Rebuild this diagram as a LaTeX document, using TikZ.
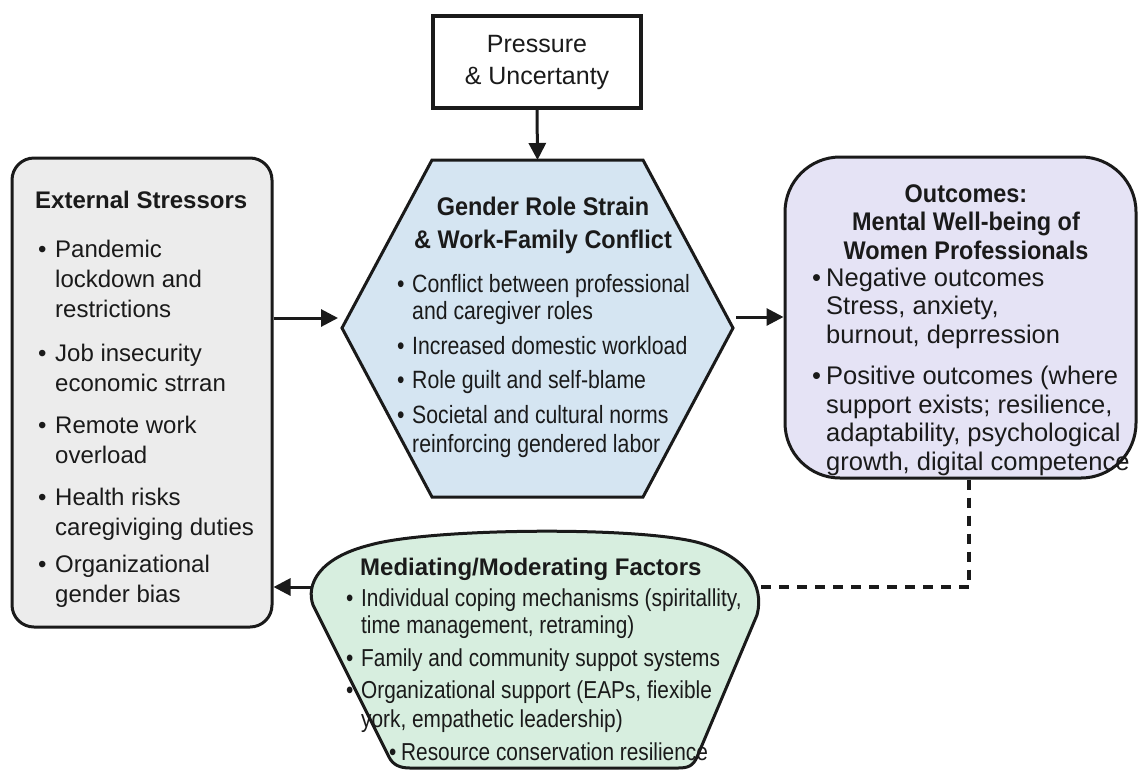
\documentclass[tikz,border=0pt]{standalone}
\usepackage{fontspec}
\setmainfont{Liberation Sans}
\newfontfamily\narrowfont{Liberation Sans}[FakeStretch=0.85]
\newfontfamily\semifont{Liberation Sans}[FakeStretch=0.92]
\usetikzlibrary{arrows.meta}

\definecolor{ink}{HTML}{1A1A1A}
\definecolor{extfill}{HTML}{ECECEC}
\definecolor{hexfill}{HTML}{D5E5F2}
\definecolor{outfill}{HTML}{E5E3F5}
\definecolor{medfill}{HTML}{D7EEDF}

% bullet mark in a box of given width, and the matching indent of follow-on lines
\newcommand\itemdot[1]{\makebox[#1][l]{\textbullet}}
\newcommand\cont[1]{\hspace*{#1}}

\begin{document}
\begin{tikzpicture}[x=1pt,y=-1pt,
  outline/.style={draw=ink, line width=3pt},
  arr/.style={draw=ink, line width=3pt, -{Triangle[length=17pt,width=17pt]}},
  link/.style={draw=ink, line width=3.5pt, dash pattern=on 10pt off 8pt},
  txt/.style={inner sep=0pt, text=ink, anchor=base west},
  ctxt/.style={inner sep=0pt, text=ink, anchor=base},
]
\useasboundingbox (0,0) rectangle (1139,769);
\fill[white] (0,0) rectangle (1139,769);

% ---- boxes ----
\node[outline, fill=extfill, rounded corners=22pt, minimum width=260pt,
      minimum height=469pt, inner sep=0pt] (ext) at (142,392.5) {};
\node[outline, line width=3.5pt, fill=white, minimum width=208pt, minimum height=92pt,
      inner sep=0pt, align=center, text=ink,
      font=\fontsize{25}{32}\selectfont] (top) at (537,62) {Pressure\\\& Uncertanty};
\node[outline, fill=outfill, rounded corners=55pt, minimum width=351pt,
      minimum height=321pt, inner sep=0pt] (out) at (960.5,317.5) {};

% ---- central hexagon ----
\coordinate (hexT) at (537.5,160);
\coordinate (hexL) at (342,328);
\coordinate (hexR) at (733,328);
\draw[outline, fill=hexfill, line join=miter]
  (432,160) -- (643,160) -- (hexR) -- (643,497) -- (432,497) -- (hexL) -- cycle;

% ---- mediating factors shape ----
\coordinate (medL) at (311,587);
\coordinate (medR) at (761,587);
\draw[outline, fill=medfill]
  (313,605) .. controls (306,585) and (318,558) .. (370,545)
  .. controls (430,528) and (640,526) .. (700,543)
  .. controls (745,556) and (765,585) .. (757,615)
  -- (697,757) .. controls (693,766) and (688,768) .. (678,768)
  -- (410,768) .. controls (400,768) and (393,765) .. (389,757)
  -- cycle;

% ---- texts ----
\node[txt, font=\fontsize{24}{30}\selectfont] (extTxt) at (35,208) {\parbox[t]{236pt}{\raggedright
  {\bfseries External Stressors}\\[19pt]
  \cont{3pt}\itemdot{17pt}Pandemic\\
  \cont{20pt}lockdown and\\
  \cont{20pt}restrictions\\[14pt]
  \cont{3pt}\itemdot{17pt}Job insecurity\\
  \cont{20pt}economic strran\\[12pt]
  \cont{3pt}\itemdot{17pt}Remote work\\
  \cont{20pt}overload\\[12pt]
  \cont{3pt}\itemdot{17pt}Health risks\\
  \cont{20pt}caregiviging duties\\[7pt]
  \cont{3pt}\itemdot{17pt}Organizational\\
  \cont{20pt}gender bias}};

\node[ctxt, font=\semifont\bfseries\fontsize{25.5}{33}\selectfont] (hexTitle) at (543,215)
  {\parbox[t]{340pt}{\centering Gender Role Strain\\\& Work-Family Conflict}};
\node[txt, font=\narrowfont\fontsize{25}{27}\selectfont] (hexTxt) at (397,292) {\parbox[t]{330pt}{\raggedright
  \itemdot{15pt}Conflict between professional\\
  \cont{15pt}and caregiver roles\\[8pt]
  \itemdot{15pt}Increased domestic workload\\[7pt]
  \itemdot{15pt}Role guilt and self-blame\\[8pt]
  \itemdot{15pt}Societal and cultural norms\\[2pt]
  \cont{15pt}reinforcing gendered labor}};

\node[ctxt, font=\semifont\bfseries\fontsize{25.5}{28.5}\selectfont] (outTitle) at (966,202)
  {\parbox[t]{340pt}{\centering Outcomes:\\Mental Well-being of\\Women Professionals}};
\node[txt, font=\fontsize{25.5}{28.5}\selectfont] (outTxt) at (812,286) {\parbox[t]{330pt}{\raggedright
  \itemdot{14pt}Negative outcomes\\
  \cont{14pt}Stress, anxiety,\\
  \cont{14pt}burnout, deprression\\[13pt]
  \itemdot{14pt}Positive outcomes (where\\
  \cont{14pt}support exists; resilience,\\
  \cont{14pt}adaptability, psychological\\
  \cont{14pt}growth, digital competence}};

\node[txt, font=\bfseries\fontsize{24}{30}\selectfont] (medTitle) at (360,575)
  {Mediating/Moderating Factors};
\node[txt, font=\narrowfont\fontsize{24.5}{27}\selectfont] (medTxt) at (346,606) {\parbox[t]{420pt}{\raggedright
  \itemdot{15pt}Individual coping mechanisms (spiritallity,\\
  \cont{15pt}time management, retraming)\\[6pt]
  \itemdot{15pt}Family and community suppot systems\\[5pt]
  \itemdot{15pt}Organizational support (EAPs, fiexible\\[2pt]
  \cont{15pt}york, empathetic leadership)\\[6pt]
  \cont{43pt}\itemdot{12pt}Resource conservation resilience}};

% ---- connectors ----
\coordinate (aL) at (338,318);
\coordinate (aR) at (736,317);
\draw[arr] (top.south) -- (hexT);
\draw[arr] (ext.east |- aL) -- (aL);
\draw[arr] (aR) -- (aR -| out.west);
\draw[arr] (medL) -- (medL -| ext.east);
\draw[link] ([xshift=8.5pt]out.south) |- (medR);
\end{tikzpicture}
\end{document}
